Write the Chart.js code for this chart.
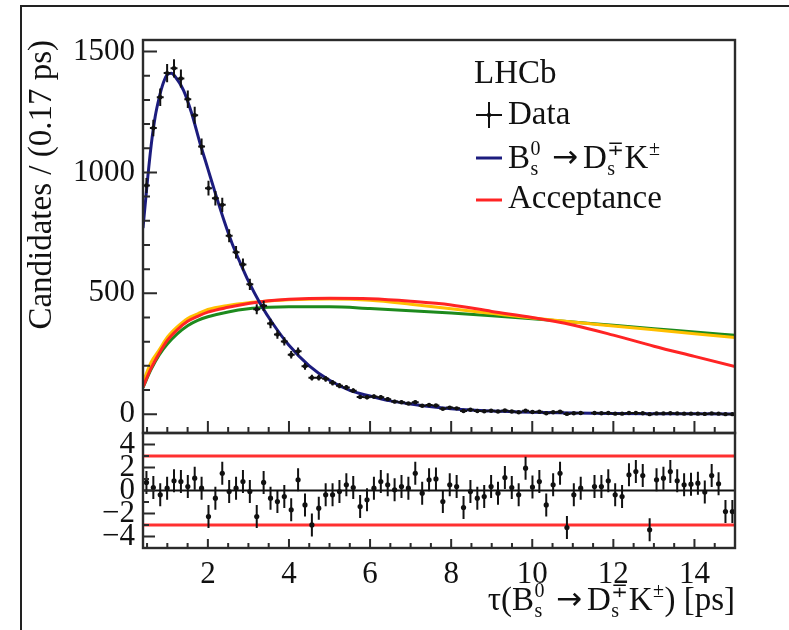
<!DOCTYPE html>
<html>
<head>
<meta charset="utf-8">
<title>Decay-time distribution</title>
<script src="https://cdn.jsdelivr.net/npm/chart.js@4.4.1/dist/chart.umd.min.js"></script>
<style>
  html, body { margin: 0; padding: 0; background: #fff; }
  #wrap { position: relative; width: 789px; height: 630px; overflow: hidden; }
  #wrap canvas { position: absolute; left: 0; top: 0; }
  #outer { position: absolute; left: 20px; top: 5px; width: 820px; height: 700px;
           border: 2px solid #222; box-sizing: border-box; }
</style>
</head>
<body>
<div id="wrap">
  <div id="outer"></div>
  <canvas id="upperCanvas" width="789" height="630"></canvas>
  <canvas id="lowerCanvas" width="789" height="630"></canvas>
</div>
<script>
// ---- binned decay-time data (0.17 ps bins) ----
const binCenters = [0.485, 0.655, 0.825, 0.995, 1.165, 1.335, 1.505, 1.675, 1.845, 2.015,
  2.185, 2.355, 2.525, 2.695, 2.865, 3.035, 3.205, 3.375, 3.545, 3.715,
  3.885, 4.055, 4.225, 4.395, 4.565, 4.735, 4.905, 5.075, 5.245, 5.415,
  5.585, 5.755, 5.925, 6.095, 6.265, 6.435, 6.605, 6.775, 6.945, 7.115,
  7.285, 7.455, 7.625, 7.795, 7.965, 8.135, 8.305, 8.475, 8.645, 8.815,
  8.985, 9.155, 9.325, 9.495, 9.665, 9.835, 10.005, 10.175, 10.345, 10.515,
  10.685, 10.855, 11.025, 11.195, 11.365, 11.535, 11.705, 11.875, 12.045, 12.215,
  12.385, 12.555, 12.725, 12.895, 13.065, 13.235, 13.405, 13.575, 13.745, 13.915,
  14.085, 14.255, 14.425, 14.595, 14.765, 14.935];
const binHalfWidth = 0.085;

const candidates = [946, 1184, 1311, 1411, 1431, 1389, 1303, 1237, 1107, 935,
  893, 866, 738, 670, 619, 537, 434, 448, 375, 330,
  301, 246, 260, 198, 151, 151, 146, 130, 118, 110,
  97, 71, 70, 73, 70, 62, 52, 49, 44, 49,
  35, 38, 36, 22, 27, 24, 13, 18, 13, 12,
  14, 11, 15, 11, 8, 14, 9, 10, 4, 8,
  10, 1, 4, 5, null, 5, 4, 5, 2, 2,
  5, 5, 4, 0, 3, 3, 4, 3, 2, 2,
  2, 1, 3, 2, 0, 0];

const pulls = [0.7, 0.26, -0.38, 0.2, 0.84, 0.78, 0.35, 1.07, 0.2, -2.26,
  -0.67, 1.5, -0.09, 0.2, 0.78, -0.09, -2.26, 0.7, -0.67, -0.96,
  -0.52, -1.68, 0.93, -1.25, -2.99, -1.54, -0.38, -0.38, -0.09, 0.49,
  0.26, -1.39, -0.81, 0.2, 0.78, 0.49, 0.06, 0.35, 0.2, 1.5,
  -0.23, 0.93, 1.01, -0.96, 0.49, 0.35, -1.48, -0.09, -0.67, -0.52,
  0.35, -0.23, 1.13, 0.26, -0.38, 1.94, 0.3, 0.78, -1.25, 0.49,
  1.5, -3.22, -0.38, 0.2, null, 0.35, 0.35, 0.84, -0.38, -0.52,
  1.36, 1.65, 1.3, -3.42, 0.93, 1.07, 1.65, 0.84, 0.49, 0.55,
  0.64, -0.14, 1.3, 0.58, -1.83, -1.83];

// ---- fitted B_s -> D_s K decay-time model ----
const fitTime = [0.4, 0.5, 0.6, 0.7, 0.8, 0.9, 1.0, 1.1, 1.2, 1.4, 1.6, 1.8, 2.0, 2.2, 2.4, 2.6, 2.8,
  3.0, 3.3, 3.6, 4.0, 4.5, 5.0, 5.5, 6.0, 6.5, 7.0, 8.0, 9.0, 10.0, 11.0, 12.0, 13.0, 14.0, 15.0];
const fitCandidates = [770, 950, 1110, 1230, 1310, 1370, 1405, 1410, 1395, 1340, 1245, 1125, 1015, 905, 800, 705, 625,
  550, 455, 375, 285, 200, 140, 98, 75, 55, 42, 22, 13, 8, 5, 3, 2, 1.5, 1];

// ---- decay-time acceptance curves (arbitrary scale) ----
const accTime = [0.4, 0.6, 0.8, 1.0, 1.25, 1.5, 1.75, 2.0, 2.5, 3.0, 3.5, 4.0, 5.0, 6.0, 7.0,
  8.0, 9.0, 10.0, 11.0, 12.0, 13.0, 14.0, 15.0];
const accRed = [112, 190, 252, 305, 350, 384, 405, 422, 442, 458, 469, 475, 479, 477, 467,
  452, 425, 400, 369, 327, 281, 239, 197];
const accYellow = [132, 215, 266, 318, 362, 396, 415, 433, 450, 461, 468, 473, 476, 471, 455,
  436, 417, 398, 381, 365, 349, 333, 317];
const accGreen = [110, 185, 245, 290, 333, 366, 388, 403, 423, 436, 442, 444, 444, 437, 428,
  418, 407, 395, 381, 368, 353, 340, 326];

// ---- axis ticks ----
const timeTicks = [2, 4, 6, 8, 10, 12, 14];
const timeMinorTicks = [0.5, 1, 1.5, 2.5, 3, 3.5, 4.5, 5, 5.5, 6.5, 7, 7.5, 8.5, 9, 9.5,
  10.5, 11, 11.5, 12.5, 13, 13.5, 14.5];
const countTicks = [0, 500, 1000, 1500];
const countMinorTicks = [100, 200, 300, 400, 600, 700, 800, 900, 1100, 1200, 1300, 1400];
const pullTicks = [-4, -2, 0, 2, 4];
const pullMinorTicks = [-3, -1, 1, 3];
const pullBand = [-3, 0, 3];

const FONT = '"Liberation Serif", "Times New Roman", "DejaVu Serif", serif';
const SYMBOL_FONT = '"DejaVu Sans", sans-serif';
const INK = '#111';

function xy(xs, ys) {
  const out = [];
  xs.forEach((x, i) => { if (ys[i] !== null && ys[i] !== undefined) out.push({ x: x, y: ys[i] }); });
  return out;
}

// Frame and inward-pointing tick marks drawn around the plot area
const rootFrame = {
  id: 'rootFrame',
  afterDraw(chart, args, o) {
    const { ctx, chartArea: a } = chart;
    const xs = chart.scales.x, ys = chart.scales.y;
    ctx.save();
    ctx.strokeStyle = '#2b2b2b';
    ctx.lineWidth = 2;
    ctx.beginPath();
    o.yMajor.forEach(v => { const p = ys.getPixelForValue(v); ctx.moveTo(a.left, p); ctx.lineTo(a.left + o.yMajLen, p); });
    o.yMinor.forEach(v => { const p = ys.getPixelForValue(v); ctx.moveTo(a.left, p); ctx.lineTo(a.left + o.yMinLen, p); });
    o.xMajor.forEach(v => { const p = xs.getPixelForValue(v); ctx.moveTo(p, a.bottom); ctx.lineTo(p, a.bottom - o.xMajLen); });
    o.xMinor.forEach(v => { const p = xs.getPixelForValue(v); ctx.moveTo(p, a.bottom); ctx.lineTo(p, a.bottom - o.xMinLen); });
    ctx.stroke();
    ctx.lineWidth = 2.4;
    ctx.strokeRect(a.left, a.top, a.right - a.left, a.bottom - a.top);
    ctx.restore();
  }
};

// Vertical (and optional horizontal) error bars on marker datasets
const errorBars = {
  id: 'errorBars',
  afterDatasetsDraw(chart) {
    const { ctx, chartArea: a } = chart;
    const xs = chart.scales.x, ys = chart.scales.y;
    ctx.save();
    ctx.beginPath();
    ctx.rect(a.left, a.top, a.right - a.left, a.bottom - a.top);
    ctx.clip();
    chart.data.datasets.forEach(ds => {
      if (!ds.errorY) return;
      ctx.strokeStyle = ds.barColor;
      ctx.lineWidth = ds.barWidth;
      ctx.beginPath();
      ds.data.forEach(pt => {
        const e = ds.errorY(pt.y);
        const px = xs.getPixelForValue(pt.x);
        ctx.moveTo(px, ys.getPixelForValue(pt.y - e));
        ctx.lineTo(px, ys.getPixelForValue(pt.y + e));
        if (ds.errorX) {
          const py = ys.getPixelForValue(pt.y);
          ctx.moveTo(xs.getPixelForValue(pt.x - ds.errorX), py);
          ctx.lineTo(xs.getPixelForValue(pt.x + ds.errorX), py);
        }
      });
      ctx.stroke();
    });
    ctx.restore();
  }
};

// Text with stacked superscript/subscript pieces
function partFont(p, size) { return (p.size || size) + 'px ' + (p.font || FONT); }
function partPad(p) { return (p.padL || 0) + (p.padR || 0); }
function richWidth(ctx, parts, size, small) {
  let w = 0;
  parts.forEach(p => {
    if (p.t) { ctx.font = partFont(p, size); w += ctx.measureText(p.t).width + partPad(p); }
    else {
      ctx.font = small + 'px ' + FONT;
      w += Math.max(p.sup ? ctx.measureText(p.sup).width : 0, p.sub ? ctx.measureText(p.sub).width : 0) + 1;
    }
  });
  return w;
}
function drawRich(ctx, parts, x, y, size, align) {
  const small = Math.round(size * 0.62);
  let cx = align === 'right' ? x - richWidth(ctx, parts, size, small) : x;
  ctx.textBaseline = 'alphabetic';
  ctx.textAlign = 'left';
  parts.forEach(p => {
    if (p.t) {
      ctx.font = partFont(p, size);
      cx += p.padL || 0;
      ctx.fillText(p.t, cx, y - (p.lift || 0));
      cx += ctx.measureText(p.t).width + (p.padR || 0);
    } else {
      ctx.font = small + 'px ' + FONT;
      let w = 0;
      if (p.sup) { ctx.fillText(p.sup, cx + 0.5, y - size * 0.4); w = Math.max(w, ctx.measureText(p.sup).width); }
      if (p.sub) { ctx.fillText(p.sub, cx + 0.5, y + size * 0.22); w = Math.max(w, ctx.measureText(p.sub).width); }
      cx += w + 1;
    }
  });
}
const arrow = { t: '\u2192', font: SYMBOL_FONT, size: 31, padL: 11, padR: 5, lift: 1 };
const decayLabel = [{ t: 'B' }, { sup: '0', sub: 's' }, arrow, { t: 'D' }, { sup: '\u2213', sub: 's' }, { t: 'K' }, { sup: '\u00b1' }];
const timeTitle = [{ t: '\u03c4(B' }, { sup: '0', sub: 's' }, arrow, { t: 'D' }, { sup: '\u2213', sub: 's' }, { t: 'K' }, { sup: '\u00b1' }, { t: ') [ps]' }];

// Legend block with experiment label
const legendBox = {
  id: 'legendBox',
  afterDraw(chart) {
    const ctx = chart.ctx;
    ctx.save();
    ctx.fillStyle = INK;
    ctx.font = '33px ' + FONT;
    ctx.textBaseline = 'alphabetic';
    ctx.fillText('LHCb', 474, 83);
    // data marker
    ctx.strokeStyle = '#111';
    ctx.lineWidth = 2;
    ctx.beginPath();
    ctx.moveTo(476, 115); ctx.lineTo(502, 115);
    ctx.moveTo(489, 102); ctx.lineTo(489, 128);
    ctx.stroke();
    ctx.beginPath(); ctx.arc(489, 115, 2.2, 0, Math.PI * 2); ctx.fill();
    ctx.fillText('Data', 508, 124);
    // fit line
    ctx.strokeStyle = '#1c1c7e'; ctx.lineWidth = 3;
    ctx.beginPath(); ctx.moveTo(476, 158); ctx.lineTo(502, 158); ctx.stroke();
    drawRich(ctx, decayLabel, 508, 168, 33, 'left');
    // acceptance line
    ctx.strokeStyle = '#ff2424'; ctx.lineWidth = 3;
    ctx.beginPath(); ctx.moveTo(476, 200); ctx.lineTo(502, 200); ctx.stroke();
    ctx.font = '33px ' + FONT;
    ctx.fillText('Acceptance', 508, 208);
    ctx.restore();
  }
};

const timeTitleDraw = {
  id: 'timeTitle',
  afterDraw(chart) {
    const ctx = chart.ctx;
    ctx.save();
    ctx.fillStyle = INK;
    drawRich(ctx, timeTitle, chart.chartArea.right, 610, 33, 'right');
    ctx.restore();
  }
};

const curve = (data, color, order) => ({
  data: data, showLine: true, borderColor: color, borderWidth: 3, pointRadius: 0,
  cubicInterpolationMode: 'monotone', order: order
});

new Chart(document.getElementById('upperCanvas'), {
  type: 'scatter',
  data: {
    datasets: [
      { label: 'Data', data: xy(binCenters, candidates), showLine: false, pointRadius: 2.2,
        pointBackgroundColor: '#111', pointBorderWidth: 0, order: 0,
        errorY: v => Math.sqrt(v), errorX: binHalfWidth, barColor: '#111', barWidth: 2 },
      Object.assign({ label: 'B_s -> D_s K' }, curve(xy(fitTime, fitCandidates), '#1c1c7e', 1)),
      Object.assign({ label: 'Acceptance' }, curve(xy(accTime, accRed), '#ff2424', 2)),
      Object.assign({ label: 'Acceptance (alt. 1)' }, curve(xy(accTime, accYellow), '#ffbf00', 3)),
      Object.assign({ label: 'Acceptance (alt. 2)' }, curve(xy(accTime, accGreen), '#1d8a1d', 4))
    ]
  },
  options: {
    responsive: false, animation: false, events: [],
    layout: { padding: { left: 0, top: 40, right: 54, bottom: 197 } },
    plugins: {
      legend: { display: false }, tooltip: { enabled: false },
      rootFrame: { yMajor: countTicks, yMinor: countMinorTicks, yMajLen: 14, yMinLen: 7,
                   xMajor: timeTicks, xMinor: timeMinorTicks, xMajLen: 12, xMinLen: 6 }
    },
    scales: {
      x: { type: 'linear', min: 0.4, max: 15, display: false },
      y: {
        type: 'linear', min: -78, max: 1548, position: 'left',
        afterFit(s) { s.width = 143; },
        afterBuildTicks(s) { s.ticks = countTicks.map(v => ({ value: v })); },
        grid: { display: false }, border: { display: false },
        ticks: { font: { family: FONT, size: 31 }, color: INK, padding: 0, autoSkip: false,
                 callback: v => String(v) },
        title: { display: true, text: 'Candidates / (0.17 ps)', align: 'end', color: INK,
                 font: { family: FONT, size: 33 }, padding: { top: 23, bottom: 0 } }
      }
    }
  },
  plugins: [rootFrame, errorBars, legendBox]
});

const flat = (v, color, width, order) => ({
  data: [{ x: 0.4, y: v }, { x: 15, y: v }], showLine: true, borderColor: color,
  borderWidth: width, pointRadius: 0, order: order
});

new Chart(document.getElementById('lowerCanvas'), {
  type: 'scatter',
  data: {
    datasets: [
      { label: 'Pull', data: xy(binCenters, pulls), showLine: false, pointRadius: 2.6,
        pointBackgroundColor: '#111', pointBorderWidth: 0, order: 0,
        errorY: () => 1, barColor: '#111', barWidth: 2 },
      flat(pullBand[1], '#111', 2, 1),
      flat(pullBand[0], '#ff3030', 3, 2),
      flat(pullBand[2], '#ff3030', 3, 3)
    ]
  },
  options: {
    responsive: false, animation: false, events: [],
    layout: { padding: { left: 0, top: 433, right: 54, bottom: 0 } },
    plugins: {
      legend: { display: false }, tooltip: { enabled: false },
      rootFrame: { yMajor: pullTicks, yMinor: pullMinorTicks, yMajLen: 12, yMinLen: 6,
                   xMajor: timeTicks, xMinor: timeMinorTicks, xMajLen: 9, xMinLen: 5 }
    },
    scales: {
      x: {
        type: 'linear', min: 0.4, max: 15, position: 'bottom',
        afterFit(s) { s.height = 82; },
        afterBuildTicks(s) { s.ticks = timeTicks.map(v => ({ value: v })); },
        grid: { display: false }, border: { display: false },
        ticks: { font: { family: FONT, size: 31 }, color: INK, padding: 0, maxRotation: 0, autoSkip: false }
      },
      y: {
        type: 'linear', min: -5, max: 5, position: 'left',
        afterFit(s) { s.width = 143; },
        afterBuildTicks(s) { s.ticks = pullTicks.map(v => ({ value: v })); },
        grid: { display: false }, border: { display: false },
        ticks: { font: { family: FONT, size: 31 }, color: INK, padding: 0, autoSkip: false,
                 callback: v => (v < 0 ? '\u2212' + Math.abs(v) : String(v)) }
      }
    }
  },
  plugins: [rootFrame, errorBars, timeTitleDraw]
});
</script>
</body>
</html>
